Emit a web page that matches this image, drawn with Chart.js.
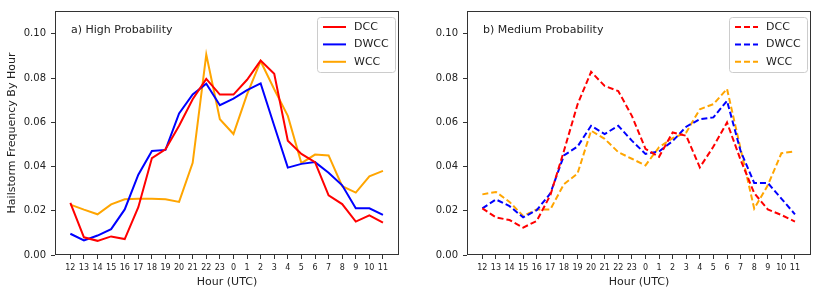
<!DOCTYPE html>
<html>
<head>
<meta charset="utf-8">
<script src="https://cdn.jsdelivr.net/npm/chart.js@4.4.0/dist/chart.umd.min.js"></script>
<style>
body{margin:0;background:#fff;width:815px;height:292px;overflow:hidden;position:relative}
.box{position:absolute;top:0;height:292px}
</style>
</head>
<body>
<div class="box" style="left:0;width:405px"><canvas id="high"></canvas></div>
<div class="box" style="left:405px;width:410px"><canvas id="medium"></canvas></div>
<script>
// hours in UTC, starting at 12
var hours = [12,13,14,15,16,17,18,19,20,21,22,23,0,1,2,3,4,5,6,7,8,9,10,11];
var yTicks = [0, 0.02, 0.04, 0.06, 0.08, 0.10];
var seriesNames = ["DCC", "DWCC", "WCC"];
var seriesColors = ["#ff0000", "#0000ff", "#ffa500"];

// a) high probability
var highDCC  = [0.0236,0.0080,0.0064,0.0084,0.0072,0.0216,0.0438,0.0478,0.0584,0.0704,0.0796,0.0725,
                0.0725,0.0792,0.0879,0.0819,0.0517,0.0457,0.0420,0.0270,0.0230,0.0151,0.0179,0.0146];
var highDWCC = [0.0096,0.0066,0.0088,0.0117,0.0206,0.0363,0.0470,0.0475,0.0640,0.0726,0.0774,0.0677,
                0.0707,0.0745,0.0776,0.0584,0.0395,0.0412,0.0420,0.0372,0.0315,0.0211,0.0211,0.0181];
var highWCC  = [0.0228,0.0205,0.0184,0.0229,0.0252,0.0254,0.0254,0.0252,0.0240,0.0417,0.0906,0.0614,
                0.0547,0.0726,0.0876,0.0749,0.0629,0.0415,0.0454,0.0450,0.0311,0.0282,0.0356,0.0380];

// b) medium probability
var medDCC  = [0.0211,0.0170,0.0158,0.0124,0.0154,0.0270,0.0470,0.0680,0.0828,0.0764,0.0741,0.0629,
               0.0480,0.0444,0.0554,0.0539,0.0396,0.0490,0.0599,0.0430,0.0280,0.0206,0.0181,0.0151];
var medDWCC = [0.0211,0.0251,0.0221,0.0170,0.0203,0.0278,0.0450,0.0490,0.0584,0.0547,0.0584,0.0517,
               0.0457,0.0468,0.0515,0.0580,0.0614,0.0622,0.0697,0.0470,0.0326,0.0326,0.0255,0.0184];
var medWCC  = [0.0274,0.0285,0.0240,0.0176,0.0206,0.0206,0.0320,0.0368,0.0562,0.0525,0.0465,0.0435,
               0.0405,0.0487,0.0528,0.0554,0.0659,0.0682,0.0751,0.0480,0.0210,0.0315,0.0460,0.0468];

var FONT = "'DejaVu Sans', sans-serif";

function pts(arr) {
  return arr.map(function(v, i) { return {x: i, y: v}; });
}

function makeSets(lists, dash) {
  return lists.map(function(arr, k) {
    return {
      label: seriesNames[k],
      data: pts(arr),
      borderColor: seriesColors[k],
      backgroundColor: seriesColors[k],
      borderWidth: 2,
      borderDash: dash,
      pointRadius: 0,
      tension: 0,
      fill: false
    };
  });
}

// frame, panel label and the legend box inside the plot
var panelPlugin = {
  id: 'panel',
  afterDraw: function(chart, args, opts) {
    var ctx = chart.ctx, a = chart.chartArea;
    ctx.save();
    ctx.strokeStyle = '#333';
    ctx.lineWidth = 1;
    ctx.strokeRect(Math.round(a.left) + 0.5, Math.round(a.top) + 0.5,
                   Math.round(a.width) - 1, Math.round(a.height) - 1);

    ctx.fillStyle = '#222';
    ctx.font = '11px ' + FONT;
    ctx.textBaseline = 'middle';
    ctx.textAlign = 'left';
    ctx.fillText(opts.label, a.left + 16, a.top + 19);

    var bw = 78, bh = 55;
    var bx = a.right - 4 - bw, by = a.top + 6;
    ctx.fillStyle = 'rgba(255,255,255,0.8)';
    ctx.strokeStyle = '#cccccc';
    ctx.beginPath();
    ctx.roundRect(bx + 0.5, by + 0.5, bw, bh, 3);
    ctx.fill();
    ctx.stroke();

    chart.data.datasets.forEach(function(ds, k) {
      var y = by + 10 + k * 17.4;
      ctx.strokeStyle = ds.borderColor;
      ctx.lineWidth = 2;
      ctx.setLineDash(ds.borderDash || []);
      ctx.beginPath();
      ctx.moveTo(bx + 6, y);
      ctx.lineTo(bx + 29, y);
      ctx.stroke();
      ctx.setLineDash([]);
      ctx.fillStyle = '#222';
      ctx.fillText(ds.label, bx + 37, y);
    });
    ctx.restore();
  }
};

function makeChart(id, lists, dash, label, yWidth, padRight, showTitle) {
  return new Chart(id, {
    type: 'line',
    data: { datasets: makeSets(lists, dash) },
    plugins: [panelPlugin],
    options: {
      responsive: true,
      maintainAspectRatio: false,
      animation: false,
      layout: { padding: { top: 9, right: padRight, left: 0, bottom: 0 } },
      plugins: {
        legend: { display: false },
        tooltip: { enabled: false },
        panel: { label: label }
      },
      scales: {
        x: {
          type: 'linear',
          min: -1.13,
          max: 24.18,
          afterBuildTicks: function(s) {
            s.ticks = hours.map(function(h, i) { return {value: i}; });
          },
          afterFit: function(s) { s.height = 37; },
          ticks: {
            autoSkip: false,
            maxRotation: 0,
            padding: 4,
            color: '#222',
            font: { family: FONT, size: 8 },
            callback: function(v) { return String(hours[v]); }
          },
          grid: { drawOnChartArea: false, drawTicks: true, tickLength: 4, color: '#333' },
          border: { display: false },
          title: {
            display: true,
            text: 'Hour (UTC)',
            color: '#222',
            font: { family: FONT, size: 11 },
            padding: { top: 2, bottom: 3 }
          }
        },
        y: {
          min: 0,
          max: 0.1103,
          afterBuildTicks: function(s) {
            s.ticks = yTicks.map(function(v) { return {value: v}; });
          },
          afterFit: function(s) { s.width = yWidth; },
          ticks: {
            padding: 5,
            color: '#222',
            font: { family: FONT, size: 10 },
            callback: function(v) { return v.toFixed(2); }
          },
          grid: { drawOnChartArea: false, drawTicks: true, tickLength: 4, color: '#333' },
          border: { display: false },
          title: {
            display: showTitle,
            text: 'Hailstorm Frequency By Hour',
            color: '#222',
            font: { family: FONT, size: 11 },
            padding: { top: 6, bottom: 0 }
          }
        }
      }
    }
  });
}

makeChart('high', [highDCC, highDWCC, highWCC], [], 'a) High Probability', 55, 6, true);
makeChart('medium', [medDCC, medDWCC, medWCC], [6, 3], 'b) Medium Probability', 62, 4, false);
</script>
</body>
</html>
